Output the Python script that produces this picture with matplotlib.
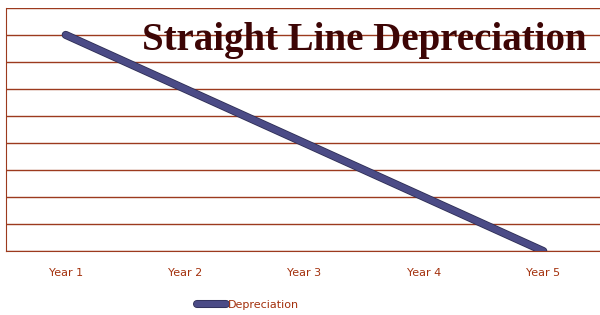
import matplotlib
matplotlib.use("Agg")
import matplotlib.pyplot as plt
import matplotlib.patheffects as pe

categories = ["Year 1", "Year 2", "Year 3", "Year 4", "Year 5"]
depreciation = [8, 6, 4, 2, 0]
series_name = "Depreciation"
title = "Straight Line Depreciation"

grid_c = "#9c3a1e"
text_c = "#a3300c"
line_c = "#4b4b86"

fig = plt.figure(figsize=(6, 3.15), dpi=100)
ax = fig.add_axes([0.01, 0.203, 0.995, 0.772])
x = list(range(len(categories)))
ax.plot(x, depreciation, color=line_c, lw=4.6, solid_capstyle="round",
        path_effects=[pe.Stroke(linewidth=5.8, foreground="#2e2e55"), pe.Normal()],
        label=series_name, zorder=3)
ax.set_xlim(-0.5, 4.5)
ax.set_ylim(0, 9)
ax.set_yticks(range(0, 10))
ax.set_yticklabels([])
ax.set_xticks(x)
ax.set_xticklabels(categories, color=text_c, fontsize=8, family="DejaVu Sans")
ax.tick_params(axis="both", length=0, pad=12)
ax.grid(axis="y", color=grid_c, lw=1)
ax.set_axisbelow(True)
for s in ["top", "right"]:
    ax.spines[s].set_visible(False)
ax.spines["left"].set_color(grid_c)
ax.spines["bottom"].set_color(grid_c)

fig.text(0.237, 0.873, title, family="Liberation Serif", fontweight="bold",
         fontsize=28, color="#3d0505", va="center", ha="left")

leg = fig.legend(loc="center", bbox_to_anchor=(0.413, 0.032), frameon=False,
                 fontsize=8, handlelength=2.6, handletextpad=0.15, borderpad=0)
for t in leg.get_texts():
    t.set_color(text_c)

fig.savefig("out.png", dpi=100)
